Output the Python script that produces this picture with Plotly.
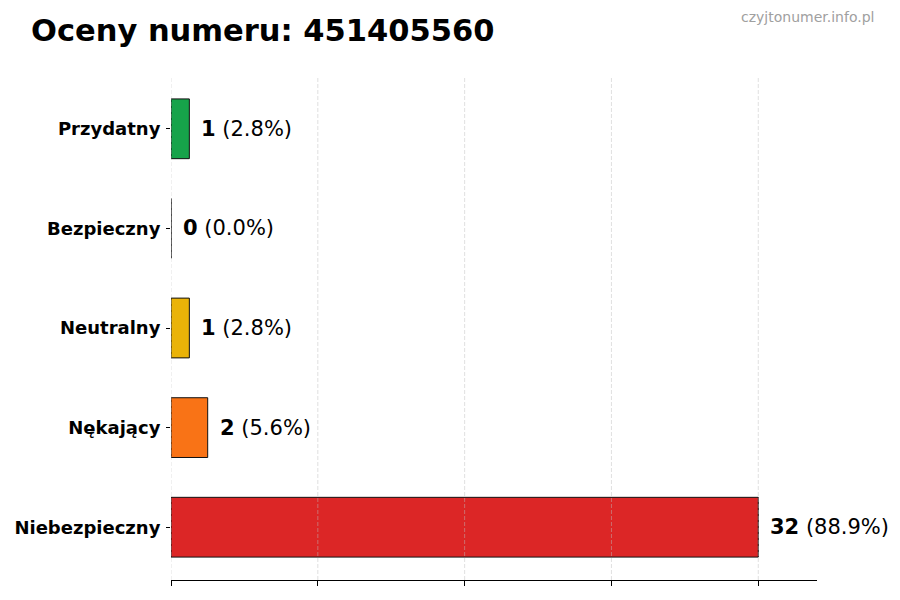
import plotly.graph_objects as go

categories = ["Niebezpieczny", "Nękający", "Neutralny", "Bezpieczny", "Przydatny"]
counts = [32, 2, 1, 0, 1]
percents = [88.9, 5.6, 2.8, 0.0, 2.8]
colors = ["#dc2626", "#f97316", "#eab308", "#6b7280", "#16a34a"]
x_ticks = [0, 8, 16, 24, 32]

FONT = "DejaVu Sans"

fig = go.Figure()
fig.add_trace(go.Bar(
    y=categories, x=counts, orientation="h", width=0.6,
    marker=dict(color=colors, line=dict(color="#111111", width=1)),
    hoverinfo="skip",
))

# grid lines drawn above the bars, at the x tick positions
for t in x_ticks:
    fig.add_shape(
        type="line", xref="x", yref="paper", x0=t, x1=t, y0=0, y1=1,
        line=dict(color="rgba(190,190,190,0.6)", width=0.8, dash="4px,2px"),
        layer="above",
    )

for c, n, p in zip(categories, counts, percents):
    fig.add_annotation(
        x=n, y=c, xref="x", yref="y", xanchor="left", yanchor="middle",
        xshift=10, showarrow=False,
        text=f"<b>{n}</b> ({p:.1f}%)",
        font=dict(family=FONT, size=21, color="#000000"),
    )

fig.add_annotation(
    x=(876 - 171) / (900 - 171 - 83), y=(580 - 17) / (580 - 76),
    xref="paper", yref="paper", showarrow=False,
    text="czyjtonumer.info.pl", xanchor="right", yanchor="middle",
    font=dict(family=FONT, size=14, color="#a0a0a0"),
)

fig.update_layout(
    width=900, height=600,
    margin=dict(l=171, r=83, t=76, b=20),
    paper_bgcolor="white", plot_bgcolor="white",
    showlegend=False,
    font=dict(family=FONT, color="#000000"),
    title=dict(
        text="<b>Oceny numeru: 451405560</b>",
        x=31 / 900, xanchor="left", y=1 - 30 / 600, yanchor="middle",
        font=dict(family=FONT, size=30.5, color="#000000"),
    ),
    xaxis=dict(
        range=[0, 35.2], tickvals=x_ticks, showticklabels=False,
        ticks="outside", ticklen=5, tickcolor="#000000", tickwidth=1,
        showline=True, linecolor="#000000", linewidth=1,
        showgrid=False, zeroline=False, fixedrange=True,
    ),
    yaxis=dict(
        range=[-0.53, 4.53], type="category",
        tickvals=categories, ticktext=[f"<b>{c}</b>" for c in categories],
        ticks="outside", ticklen=4, tickcolor="#000000",
        showline=False, showgrid=False, zeroline=False,
        tickfont=dict(family=FONT, size=18, color="#000000"),
        ticklabelstandoff=2, fixedrange=True,
    ),
)

fig.write_html(
    "out.html",
    config={"displayModeBar": False},
    post_script="document.body.style.margin='0';",
)
